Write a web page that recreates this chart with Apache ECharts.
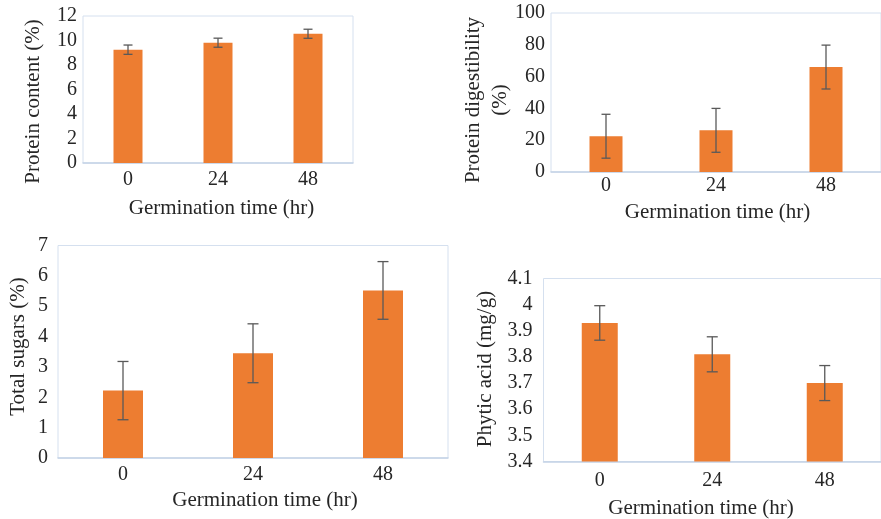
<!DOCTYPE html>
<html>
<head>
<meta charset="utf-8">
<script src="https://cdn.jsdelivr.net/npm/echarts@6/dist/echarts.min.js"></script>
<style>
html,body{margin:0;padding:0;background:#fff;}
#chart{width:881px;height:519px;}
</style>
</head>
<body>
<div id="chart"></div>
<script>
// ---- data ----
const categories = ['0', '24', '48'];
const proteinContent = [9.25, 9.82, 10.55];
const proteinContentErr = [0.38, 0.37, 0.37];
const proteinDigestibility = [22.5, 26.2, 66.0];
const proteinDigestibilityErr = [13.8, 13.8, 13.8];
const totalSugars = [2.22, 3.45, 5.52];
const totalSugarsErr = [0.96, 0.97, 0.95];
const phyticAcid = [3.93, 3.81, 3.70];
const phyticAcidErr = [0.066, 0.067, 0.067];

const xTitle = 'Germination time (hr)';
const yTitles = ['Protein content (%)', 'Protein digestibility\n(%)', 'Total sugars (%)', 'Phytic acid (mg/g)'];

// ---- styles ----
const FONT = 'Liberation Serif';
const TXT = '#262626';
const ORANGE = '#ED7D31';
const ERR = '#595959';
const FRAME = '#d5e0ef';
const AXIS = '#c3d2e6';

const panels = [
  {values: proteinContent, errs: proteinContentErr, min: 0, max: 12, interval: 2,
   grid: {left: 83, top: 16, width: 270, height: 147}, barWidth: 29, cap: 9, yMargin: 6, xMargin: 7},
  {values: proteinDigestibility, errs: proteinDigestibilityErr, min: 0, max: 100, interval: 20,
   grid: {left: 551, top: 13, width: 333, height: 159}, barWidth: 33, cap: 9, yMargin: 6, xMargin: 4},
  {values: totalSugars, errs: totalSugarsErr, min: 0, max: 7, interval: 1,
   grid: {left: 58, top: 245.5, width: 390, height: 212.5}, barWidth: 40, cap: 11, yMargin: 10, xMargin: 7},
  {values: phyticAcid, errs: phyticAcidErr, min: 3.4, max: 4.1, interval: 0.1,
   grid: {left: 543.5, top: 278.5, width: 345, height: 183}, barWidth: 36, cap: 11, yMargin: 11, xMargin: 9}
];

const titlePos = {
  x: [[221.5, 208], [717.5, 212], [265, 500], [701, 508]],
  y: [[33, 101.5], [486.5, 100], [18, 346.5], [485, 369]]
};

const grids = [], xAxes = [], yAxes = [], series = [];
panels.forEach((p, i) => {
  grids.push(Object.assign({show: true, borderColor: FRAME, borderWidth: 1, backgroundColor: '#fff'}, p.grid));
  xAxes.push({
    type: 'category', gridIndex: i, data: categories,
    axisLine: {show: true, lineStyle: {color: AXIS, width: 1.5}},
    axisTick: {show: false},
    axisLabel: {color: TXT, fontFamily: FONT, fontSize: 20, margin: p.xMargin}
  });
  yAxes.push({
    type: 'value', gridIndex: i, min: p.min, max: p.max, interval: p.interval,
    axisLine: {show: false}, axisTick: {show: false}, splitLine: {show: false},
    axisLabel: {color: TXT, fontFamily: FONT, fontSize: 20, margin: p.yMargin}
  });
  series.push({
    type: 'bar', xAxisIndex: i, yAxisIndex: i, data: p.values,
    barWidth: p.barWidth, itemStyle: {color: ORANGE}, silent: true, animation: false
  });
  const errData = p.values.map((v, k) => [k, v - p.errs[k], v + p.errs[k]]);
  const cap = p.cap;
  series.push({
    type: 'custom', xAxisIndex: i, yAxisIndex: i, data: errData, animation: false, silent: true,
    z: 10,
    renderItem: function (params, api) {
      const idx = api.value(0);
      const hi = api.coord([idx, api.value(2)]);
      const lo = api.coord([idx, api.value(1)]);
      const st = {stroke: ERR, lineWidth: 1.3};
      return {
        type: 'group',
        children: [
          {type: 'line', shape: {x1: hi[0], y1: hi[1], x2: lo[0], y2: lo[1]}, style: st},
          {type: 'line', shape: {x1: hi[0] - cap / 2, y1: hi[1], x2: hi[0] + cap / 2, y2: hi[1]}, style: st},
          {type: 'line', shape: {x1: lo[0] - cap / 2, y1: lo[1], x2: lo[0] + cap / 2, y2: lo[1]}, style: st}
        ]
      };
    }
  });
});

const graphics = [];
for (let i = 0; i < 4; i++) {
  graphics.push({
    type: 'text', x: titlePos.x[i][0], y: titlePos.x[i][1], silent: true,
    style: {text: xTitle, fill: TXT, fontFamily: FONT, fontSize: 21, align: 'center', verticalAlign: 'middle'}
  });
  graphics.push({
    type: 'text', x: titlePos.y[i][0], y: titlePos.y[i][1], rotation: Math.PI / 2, silent: true,
    style: {text: yTitles[i], fill: TXT, fontFamily: FONT, fontSize: 21, align: 'center', verticalAlign: 'middle', lineHeight: 27}
  });
}

const chart = echarts.init(document.getElementById('chart'), null, {renderer: 'canvas'});
chart.setOption({
  animation: false,
  backgroundColor: '#fff',
  grid: grids, xAxis: xAxes, yAxis: yAxes, series: series,
  graphic: graphics
});
</script>
</body>
</html>
